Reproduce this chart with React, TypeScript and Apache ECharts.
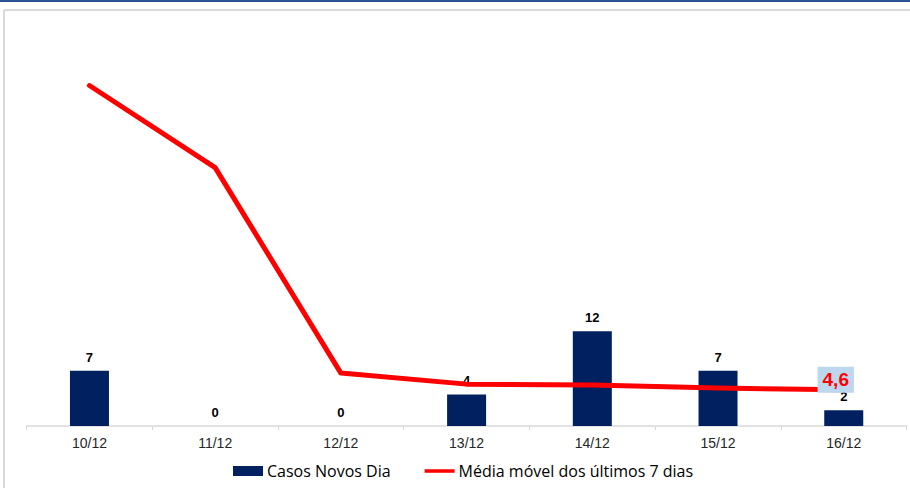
import React, { useEffect, useRef } from "react";
import * as echarts from "echarts";

const categories = ["10/12", "11/12", "12/12", "13/12", "14/12", "15/12", "16/12"];
const casosNovos = [7, 0, 0, 4, 12, 7, 2];
const mediaMovel = [43.1, 32.7, 6.7, 5.3, 5.2, 4.8, 4.6];
const barName = "Casos Novos Dia";
const lineName = "Média móvel dos últimos 7 dias";

export default function App() {
  const ref = useRef<HTMLDivElement>(null);
  useEffect(() => {
    if (!ref.current) return;
    const chart = echarts.init(ref.current, undefined, { renderer: "svg" });
    const last = mediaMovel.length - 1;
    chart.setOption({
      animation: false,
      backgroundColor: "#ffffff",
      graphic: [
        { type: "rect", shape: { x: 0, y: 0, width: 910, height: 2 }, style: { fill: "#2f5496" }, silent: true },
        { type: "line", shape: { x1: 4, y1: 10, x2: 910, y2: 10 }, style: { stroke: "#d9d9d9", lineWidth: 2 }, silent: true },
        { type: "line", shape: { x1: 4, y1: 10, x2: 4, y2: 488 }, style: { stroke: "#d9d9d9", lineWidth: 2 }, silent: true },
      ],
      grid: { left: 26.6, right: 3.4, top: 31, bottom: 62, containLabel: false },
      xAxis: {
        type: "category",
        data: categories,
        axisLine: { lineStyle: { color: "#d9d9d9", width: 1.5 } },
        axisTick: { show: true, length: 4, lineStyle: { color: "#d9d9d9" } },
        axisLabel: { color: "#262626", fontFamily: "Liberation Sans, Arial", fontSize: 14, margin: 10 },
      },
      yAxis: {
        type: "value",
        min: 0,
        max: 50,
        show: false,
        splitLine: { show: false },
      },
      legend: {
        top: 458,
        left: 228,
        itemWidth: 30,
        itemHeight: 10,
        itemGap: 34,
        textStyle: { color: "#000000", fontFamily: "Open Sans, Noto Sans", fontSize: 16, padding: [0, 0, 0, -1] },
        data: [
          { name: barName, icon: "rect" },
          {
            name: lineName,
            icon: "path://M0,0 M0,3 L34,3 L34,7 L0,7 Z M34,10",
            itemStyle: { color: "#ff0000" },
          },
        ],
      },
      series: [
        {
          name: barName,
          type: "bar",
          data: casosNovos,
          barWidth: 39,
          itemStyle: { color: "#002060" },
          label: {
            show: true,
            position: "top",
            distance: 7,
            color: "#000000",
            fontWeight: "bold",
            fontFamily: "Liberation Sans, Arial",
            fontSize: 13,
          },
          z: 2,
        },
        {
          name: lineName,
          type: "line",
          data: mediaMovel,
          symbol: "none",
          showSymbol: false,
          lineStyle: { color: "#ff0000", width: 5, cap: "round", join: "round" },
          itemStyle: { color: "#ff0000" },
          markPoint: {
            symbol: "rect",
            symbolSize: 0,
            data: [
              {
                coord: [last, mediaMovel[last]],
                value: mediaMovel[last],
              },
            ],
            label: {
              show: true,
              position: "inside",
              offset: [-8, -10],
              formatter: (p: any) => String(p.value).replace(".", ","),
              color: "#ff0000",
              fontWeight: "bold",
              fontFamily: "Liberation Sans, Arial",
              fontSize: 19,
              lineHeight: 21,
              backgroundColor: "#bdd7ee",
              padding: [3, 5, 2, 5],
            },
          },
          z: 3,
        },
      ],
    });
    return () => chart.dispose();
  }, []);
  return (
    <div
      ref={ref}
      style={{ position: "absolute", left: 0, top: 0, width: 910, height: 488 }}
    />
  );
}
